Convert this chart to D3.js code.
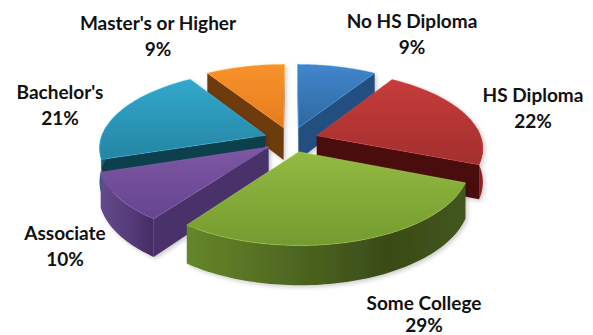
<!DOCTYPE html>
<html>
<head>
<meta charset="utf-8">
<script src="https://cdn.jsdelivr.net/npm/d3@7"></script>
<style>
  html, body { margin: 0; padding: 0; background: #fff; }
  svg { display: block; }
  text { font-family: Lato, "Open Sans", sans-serif; font-weight: 700; font-size: 19px; fill: #111; }
</style>
</head>
<body>
<svg id="chart" width="593" height="335"></svg>
<script>
// Education levels and their share of the whole
const categories = ["No HS Diploma", "HS Diploma", "Some College", "Associate", "Bachelor's", "Master's or Higher"];
const shares = [9, 22, 29, 10, 21, 9];

// Face colours per slice: top gradient, cut face, rim gradient
const topLight = ["#4186cc", "#c63c3a", "#93ba41", "#7d57a3", "#32a8cc", "#f9922c"];
const topDark  = ["#2d689f", "#a32f2d", "#749b2f", "#664590", "#2585a3", "#e67c1c"];
const cutFace  = ["#234f7f", "#4a0b0b", "#4f6b1e", "#4a3169", "#0e3f4e", "#6e3b0c"];
const rimLeft  = ["#2b5f96", "#7a1f1f", "#66862a", "#654a8c", "#1a6078", "#8a4a10"];
const rimMid   = ["#244f7c", "#7a1f1f", "#3a4b18", "#4f3672", "#124556", "#6e3b0c"];
const rimRight = ["#1f4a75", "#8c2422", "#43561c", "#432c60", "#124556", "#6e3b0c"];

// Label anchors (centre x, first baseline y) in page units
const labelX = [412, 533, 424, 65, 60, 158];
const labelY = [28, 102, 310, 240, 99, 30];
const lineGap = 26;

// Camera and pie geometry
const cx = 291, cy = 139.5;
const planeScale = 165;     // px per unit radius at mid depth
const tilt = 0.46;          // vertical foreshortening
const perspective = 0.147;  // shrink with distance
const explode = 0.165;      // slice pull-out along its mid angle
const thickness = 33;       // px at mid depth

const svg = d3.select("#chart");
const defs = svg.append("defs");
defs.append("filter").attr("id", "soft")
    .attr("x", "-10%").attr("y", "-10%").attr("width", "125%").attr("height", "125%")
  .append("feDropShadow")
    .attr("dx", 2).attr("dy", 2).attr("stdDeviation", 2)
    .attr("flood-color", "#000").attr("flood-opacity", 0.2);

// Plane point (px right, py away from viewer) to the page
function project(px, py, below) {
  const k = 1 / (1 + perspective * py);
  return [cx + planeScale * k * px,
          cy - planeScale * k * tilt * py + (below ? thickness * k : 0)];
}

const pie = d3.pie().sort(null).startAngle(0).endAngle(2 * Math.PI)(shares);
const line = d3.line();

// Painter's order, far slices first
const drawOrder = [5, 0, 4, 1, 3, 2];

drawOrder.forEach(i => {
  const d = pie[i];
  const mid = (d.startAngle + d.endAngle) / 2;
  const ox = explode * Math.sin(mid), oy = explode * Math.cos(mid);
  const rimPoint = (a, below) => project(ox + Math.sin(a), oy + Math.cos(a), below);
  const apex = below => project(ox, oy, below);
  const angles = d3.range(0, 81).map(t => d.startAngle + (d.endAngle - d.startAngle) * t / 80);

  const topGrad = "top" + i, rimGrad = "rim" + i;
  const tops = angles.map(a => rimPoint(a, false));
  const extentY = d3.extent(tops.concat([apex(false)]), p => p[1]);
  const g1 = defs.append("linearGradient").attr("id", topGrad)
    .attr("gradientUnits", "userSpaceOnUse")
    .attr("x1", 0).attr("x2", 0).attr("y1", extentY[0]).attr("y2", extentY[1]);
  g1.append("stop").attr("offset", 0).attr("stop-color", topLight[i]);
  g1.append("stop").attr("offset", 1).attr("stop-color", topDark[i]);

  const extentX = d3.extent(tops, p => p[0]);
  const g2 = defs.append("linearGradient").attr("id", rimGrad)
    .attr("gradientUnits", "userSpaceOnUse")
    .attr("x1", extentX[0]).attr("x2", extentX[1]).attr("y1", 0).attr("y2", 0);
  g2.append("stop").attr("offset", 0).attr("stop-color", rimLeft[i]);
  g2.append("stop").attr("offset", 0.72).attr("stop-color", rimMid[i]);
  g2.append("stop").attr("offset", 1).attr("stop-color", rimRight[i]);

  const slice = svg.append("g").attr("filter", "url(#soft)");

  // Cut faces: only those turned toward the viewer
  const startFace = [apex(false), rimPoint(d.startAngle, false), rimPoint(d.startAngle, true), apex(true)];
  const endFace = [rimPoint(d.endAngle, false), apex(false), apex(true), rimPoint(d.endAngle, true)];
  [startFace, endFace].forEach(face => {
    if (d3.polygonArea(face) > 0) {
      slice.append("path").attr("d", line(face) + "Z").attr("fill", cutFace[i]);
    }
  });

  // Outer rim: the stretch of arc facing the viewer
  const front = angles.filter(a => Math.cos(a) < 0.12);
  if (front.length > 1) {
    const rim = front.map(a => rimPoint(a, false)).concat(front.slice().reverse().map(a => rimPoint(a, true)));
    slice.append("path").attr("d", line(rim) + "Z").attr("fill", `url(#${rimGrad})`);
  }

  // Top face with a pale edge
  const topFace = [apex(false)].concat(tops);
  slice.append("path").attr("d", line(topFace) + "Z")
    .attr("fill", `url(#${topGrad})`)
    .attr("stroke", d3.color(topLight[i]).brighter(0.6))
    .attr("stroke-opacity", 0.55)
    .attr("stroke-width", 0.7)
    .attr("stroke-linejoin", "round");
});

// Labels: category on the first line, share underneath
svg.selectAll("g.lbl").data(categories).join("g").attr("class", "lbl")
  .each(function (name, i) {
    const g = d3.select(this);
    g.append("text").attr("text-anchor", "middle").attr("x", labelX[i]).attr("y", labelY[i]).text(name);
    g.append("text").attr("text-anchor", "middle").attr("x", labelX[i]).attr("y", Math.min(labelY[i] + lineGap, 332)).text(shares[i] + "%");
  });
</script>
</body>
</html>
